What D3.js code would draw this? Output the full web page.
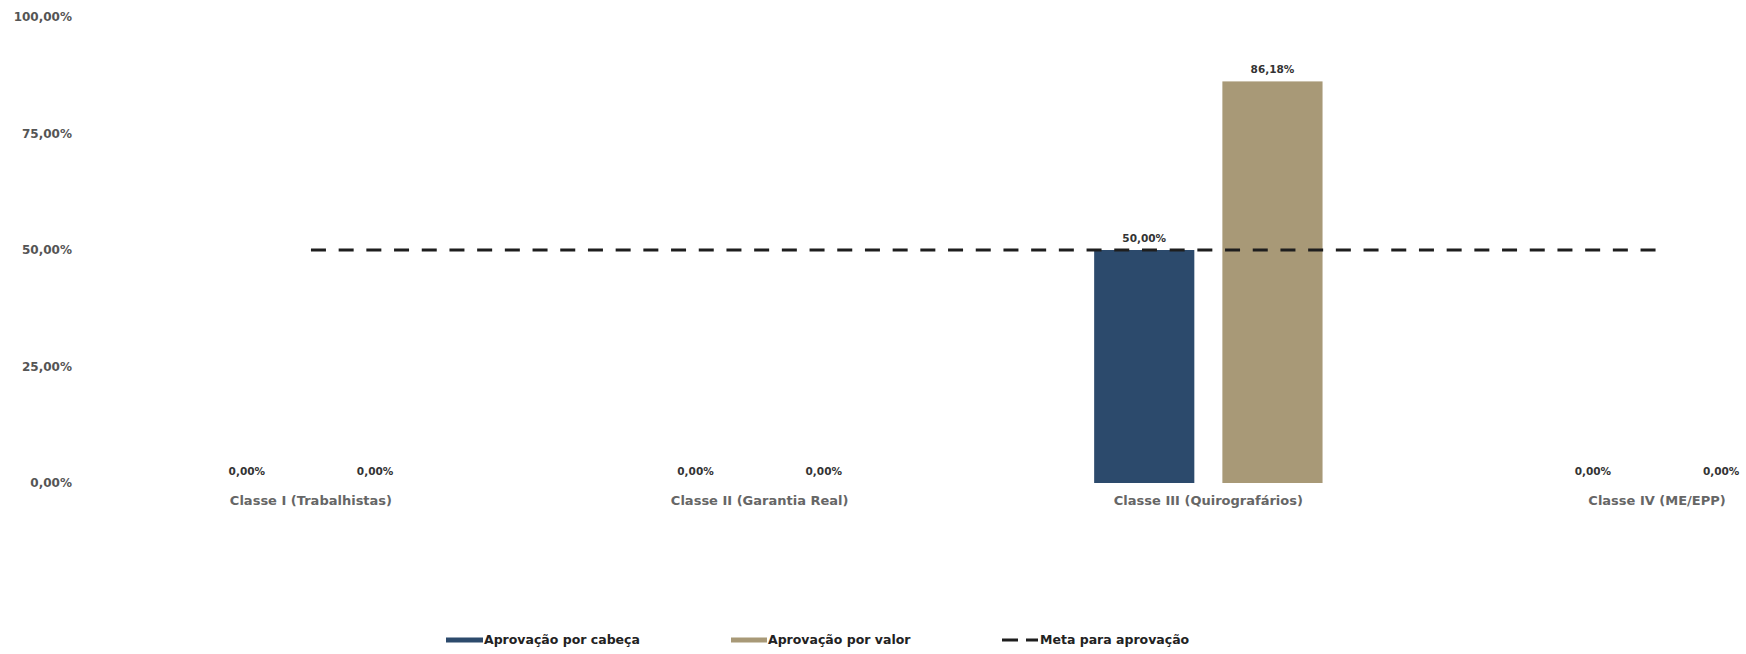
<!DOCTYPE html>
<html>
<head>
<meta charset="utf-8">
<script src="https://cdn.jsdelivr.net/npm/d3@7"></script>
<style>
  html, body { margin: 0; padding: 0; background: #fff; }
  svg { display: block; font-family: "DejaVu Sans", "Liberation Sans", Arial, sans-serif; }
</style>
</head>
<body>
<svg id="chart" width="1746" height="654"></svg>
<script>
// Voting results per creditor class
const categories = ["Classe I (Trabalhistas)", "Classe II (Garantia Real)", "Classe III (Quirografários)", "Classe IV (ME/EPP)"];
const porCabeca = [0, 0, 0.5, 0];
const porValor = [0, 0, 0.8618, 0];
const meta = [0.5, 0.5, 0.5, 0.5];
const yTicks = [0, 0.25, 0.5, 0.75, 1];
const seriesNames = ["Aprovação por cabeça", "Aprovação por valor", "Meta para aprovação"];

const colors = { cabeca: "#2c4a6c", valor: "#a89977", meta: "#1e1e1e" };
const FONT = "DejaVu Sans, Liberation Sans, Arial, sans-serif";

const ptBR = d3.formatLocale({ decimal: ",", thousands: ".", grouping: [3], currency: ["R$", ""] });
const pct = ptBR.format(".2%");

const svg = d3.select("#chart");

const y = d3.scaleLinear().domain([0, 1]).range([483, 17]);

const x0 = d3.scaleBand()
  .domain(categories)
  .range([86.6, 1881.4])
  .paddingInner(0.491)
  .paddingOuter(0.2455);

const x1 = d3.scaleBand()
  .domain(["cabeca", "valor"])
  .range([0, x0.bandwidth()])
  .paddingInner(0.21875);

// Y axis: labels only
const yAxis = svg.append("g")
  .attr("transform", "translate(72,0)")
  .call(d3.axisLeft(y).tickValues(yTicks).tickFormat(pct).tickSize(0).tickPadding(0));
yAxis.select(".domain").remove();
yAxis.selectAll("text")
  .attr("fill", "#555")
  .attr("font-size", 12)
  .attr("font-weight", "bold")
  .attr("font-family", FONT);

// X axis: category labels only
const xAxis = svg.append("g")
  .attr("transform", "translate(0,483)")
  .call(d3.axisBottom(x0).tickSize(0).tickPadding(13));
xAxis.select(".domain").remove();
xAxis.selectAll("text")
  .attr("fill", "#666")
  .attr("font-size", 13)
  .attr("font-weight", "bold")
  .attr("font-family", FONT);

// Bars
const rows = categories.map((c, i) => ({ cat: c, cabeca: porCabeca[i], valor: porValor[i] }));
const groups = svg.append("g").selectAll("g")
  .data(rows)
  .join("g")
  .attr("transform", d => `translate(${x0(d.cat)},0)`);

const cells = groups.selectAll("g")
  .data(d => ["cabeca", "valor"].map(k => ({ key: k, value: d[k] })))
  .join("g");

cells.append("rect")
  .attr("x", d => x1(d.key))
  .attr("width", x1.bandwidth())
  .attr("y", d => y(d.value))
  .attr("height", d => y(0) - y(d.value))
  .attr("fill", d => colors[d.key]);

cells.append("text")
  .attr("x", d => x1(d.key) + x1.bandwidth() / 2)
  .attr("y", d => y(d.value) - 8)
  .attr("text-anchor", "middle")
  .attr("font-size", 10.5)
  .attr("font-weight", "bold")
  .attr("fill", "#333")
  .text(d => pct(d.value));

// Approval target line
const line = d3.line()
  .x((d, i) => x0(categories[i]) + x0.bandwidth() / 2)
  .y(d => y(d));

svg.append("path")
  .datum(meta)
  .attr("d", line)
  .attr("fill", "none")
  .attr("stroke", colors.meta)
  .attr("stroke-width", 2.8)
  .attr("stroke-dasharray", "15,12.7");

// Legend
const legend = svg.append("g").attr("font-size", 12.5).attr("font-weight", "bold").attr("fill", "#222");
const legendY = 640;

legend.append("rect").attr("x", 446).attr("y", legendY - 2.5).attr("width", 37).attr("height", 5).attr("fill", colors.cabeca);
legend.append("text").attr("x", 484).attr("y", legendY).attr("dy", "0.35em").text(seriesNames[0]);

legend.append("rect").attr("x", 731).attr("y", legendY - 2.5).attr("width", 36).attr("height", 5).attr("fill", colors.valor);
legend.append("text").attr("x", 768).attr("y", legendY).attr("dy", "0.35em").text(seriesNames[1]);

legend.append("line").attr("x1", 1002).attr("x2", 1038).attr("y1", legendY).attr("y2", legendY)
  .attr("stroke", colors.meta).attr("stroke-width", 2.8).attr("stroke-dasharray", "16,8");
legend.append("text").attr("x", 1040).attr("y", legendY).attr("dy", "0.35em").text(seriesNames[2]);
</script>
</body>
</html>
